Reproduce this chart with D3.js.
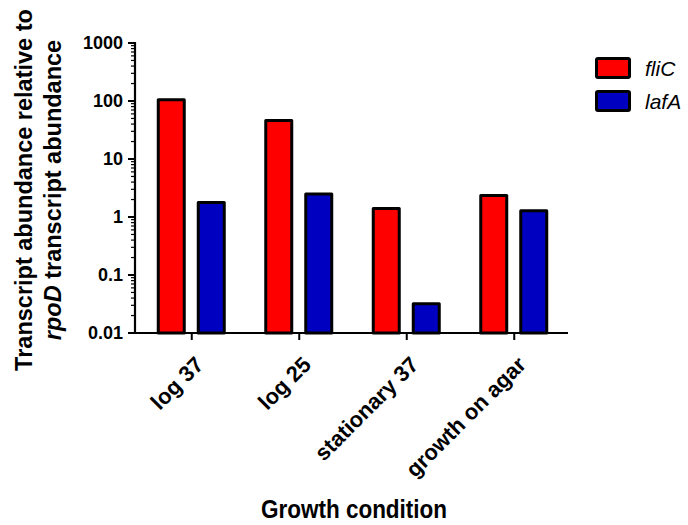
<!DOCTYPE html>
<html><head><meta charset="utf-8">
<script src="https://cdn.jsdelivr.net/npm/d3@7"></script>
<style>body{margin:0;background:#fff}svg{display:block}text{font-family:"Liberation Sans",Arial,sans-serif}</style>
</head><body><svg id="c" width="688" height="525"></svg>
<script>
const categories = ["log 37", "log 25", "stationary 37", "growth on agar"];
const fliC = [105, 46, 1.4, 2.35];
const lafA = [1.78, 2.5, 0.032, 1.28];
const seriesNames = ["fliC", "lafA"];
const seriesColors = ["#ff0000", "#0000c0"];
const yTicks = [0.01, 0.1, 1, 10, 100, 1000];
const yTickLabels = ["0.01", "0.1", "1", "10", "100", "1000"];

const svg = d3.select("#c");
const x0 = 135, x1 = 568, yTop = 43, yBot = 333;
const x = d3.scaleBand().domain(categories).range([x0 + 3, x1]);
const y = d3.scaleLog().domain([0.01, 1000]).range([yBot, yTop]);

// bars
const series = [fliC, lafA];
const bw = 26, offs = [-33.5, 6.5];
series.forEach((vals, si) => {
  svg.append("g").selectAll("rect").data(vals).join("rect")
    .attr("x", (d, i) => x(categories[i]) + x.bandwidth() / 2 + offs[si])
    .attr("y", d => y(d))
    .attr("width", bw)
    .attr("height", d => yBot - y(d))
    .attr("fill", seriesColors[si])
    .attr("stroke", "#000").attr("stroke-width", 3).attr("stroke-linejoin", "round");
});

// y axis minor ticks
const minor = [];
for (let e = -2; e < 3; e++) for (let k = 2; k <= 9; k++) minor.push(k * Math.pow(10, e));
const gy = svg.append("g");
gy.selectAll("line.mi").data(minor).join("line")
  .attr("x1", x0 - 4).attr("x2", x0).attr("y1", d => y(d)).attr("y2", d => y(d))
  .attr("stroke", "#000").attr("stroke-width", 1.2);
gy.selectAll("line.ma").data(yTicks).join("line")
  .attr("x1", x0 - 7).attr("x2", x0).attr("y1", d => y(d)).attr("y2", d => y(d))
  .attr("stroke", "#000").attr("stroke-width", 2);
gy.append("line").attr("x1", x0).attr("x2", x0).attr("y1", yTop - 1).attr("y2", yBot + 1)
  .attr("stroke", "#000").attr("stroke-width", 2.2);
gy.selectAll("text").data(yTicks).join("text")
  .attr("x", x0 - 12).attr("y", d => y(d)).attr("dy", "0.36em")
  .attr("text-anchor", "end").attr("font-weight", "bold").attr("font-size", 18)
  .text((d, i) => yTickLabels[i]);

// x axis
const gx = svg.append("g");
gx.append("line").attr("x1", x0).attr("x2", x1).attr("y1", yBot).attr("y2", yBot)
  .attr("stroke", "#000").attr("stroke-width", 2.2);
gx.selectAll("line.t").data(categories).join("line")
  .attr("x1", d => x(d) + x.bandwidth() / 2).attr("x2", d => x(d) + x.bandwidth() / 2)
  .attr("y1", yBot).attr("y2", yBot + 7).attr("stroke", "#000").attr("stroke-width", 2);
gx.selectAll("text").data(categories).join("text")
  .attr("transform", d => `translate(${x(d) + x.bandwidth() / 2 + 2},355) rotate(-45)`)
  .attr("dy", "0.71em").attr("text-anchor", "end")
  .attr("font-weight", "bold").attr("font-size", 22).text(d => d);

// axis titles
svg.append("text").attr("transform", "translate(354,518) scale(0.9,1)").attr("text-anchor", "middle")
  .attr("font-weight", "bold").attr("font-size", 25).text("Growth condition");
const yt = svg.append("text").attr("transform", "translate(0,190) rotate(-90)")
  .attr("text-anchor", "middle").attr("font-weight", "bold").attr("font-size", 23.5);
yt.append("tspan").attr("x", 0).attr("y", 32).text("Transcript abundance relative to");
const l2 = yt.append("tspan").attr("x", 0).attr("y", 61);
l2.append("tspan").attr("font-style", "italic").text("rpoD");
l2.append("tspan").text(" transcript abundance");

// legend
const lg = svg.append("g");
seriesNames.forEach((n, i) => {
  const cy = [68, 101][i];
  lg.append("rect").attr("x", 596.5).attr("y", cy - 9.5).attr("width", 33).attr("height", 19)
    .attr("fill", seriesColors[i]).attr("stroke", "#000").attr("stroke-width", 3).attr("rx", 1.5);
  lg.append("text").attr("x", 645).attr("y", cy).attr("dy", "0.36em")
    .attr("font-style", "italic").attr("font-size", 21).text(n);
});
</script></body></html>
